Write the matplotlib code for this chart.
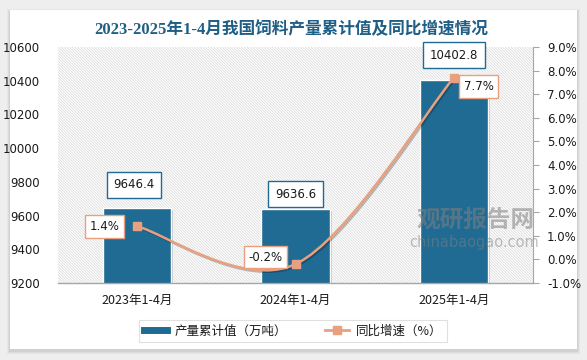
import numpy as np
import matplotlib
matplotlib.use("Agg")
import matplotlib.pyplot as plt
from matplotlib.patches import Rectangle
from matplotlib.path import Path
from matplotlib.patches import PathPatch
from matplotlib.lines import Line2D
import matplotlib.patheffects as pe

plt.rcParams['font.family'] = ['Noto Sans CJK SC', 'DejaVu Sans']
plt.rcParams['hatch.linewidth'] = 0.5

categories = ["2023年1-4月", "2024年1-4月", "2025年1-4月"]
production = [9646.4, 9636.6, 10402.8]
growth = [1.4, -0.2, 7.7]
left_ticks = [9200, 9400, 9600, 9800, 10000, 10200, 10400, 10600]
right_ticks = [-1, 0, 1, 2, 3, 4, 5, 6, 7, 8, 9]

title = "2023-2025年1-4月我国饲料产量累计值及同比增速情况"
legend_labels = ["产量累计值（万吨）", "同比增速（%）"]

BAR = '#1F6B93'
LINE = '#E9A07F'
TITLE_C = '#1F5F86'
TXT = '#1a1a1a'

W, H = 587, 360
fig = plt.figure(figsize=(W / 100, H / 100), dpi=100, facecolor='#eeeeee')

# white card with soft shadow
for i, a in enumerate([0.03, 0.04, 0.05]):
    d = 3 - i
    fig.patches.append(Rectangle(((10 - d) / W, (11 - d - 2) / H), (567 + 2 * d) / W, (339 + 2 * d) / H,
                                 transform=fig.transFigure, facecolor='black', alpha=a, edgecolor='none', zorder=-10))
fig.patches.append(Rectangle((10 / W, 11 / H), 567 / W, 339 / H, transform=fig.transFigure,
                             facecolor='white', edgecolor='none', zorder=-9))

ax = fig.add_axes([58 / W, 1 - 283 / H, (533 - 58) / W, (283 - 47) / H])
ax.set_facecolor('white')
ax.patch.set_hatch('\\' * 12)
ax.patch.set_edgecolor('#d6d6d6')
ax.patch.set_linewidth(0)

x = np.arange(len(categories))
bars = ax.bar(x, production, width=0.43, color=BAR, edgecolor='white', linewidth=1.0, zorder=2)
for b in bars:
    b.set_path_effects([pe.SimplePatchShadow(offset=(1.5, -1.5), alpha=0.35, shadow_rgbFace='#777777'), pe.Normal()])

ax.set_xlim(-0.5, 2.5)
ax.set_ylim(9200, 10600)
ax.set_yticks(left_ticks)
ax.set_yticklabels([str(v) for v in left_ticks], family=['DejaVu Sans'], fontsize=8.5, color=TXT)
ax.tick_params(axis='y', length=0, pad=13)
ax.set_xticks(x)
ax.set_xticklabels(categories, fontsize=9, color=TXT)
ax.tick_params(axis='x', length=0, pad=8)
for s in ['top', 'right', 'left']:
    ax.spines[s].set_visible(False)
ax.spines['bottom'].set_color('#a6a6a6')
ax.spines['bottom'].set_linewidth(1)

bar_offsets = [23, 15, 25]
for xi, v, off in zip(x, production, bar_offsets):
    ax.annotate(f"{v:.1f}", (xi, v), xytext=(-3 if xi == 0 else 0, off), textcoords='offset pixels',
                ha='center', va='center', fontsize=8.5, family=['DejaVu Sans'], color=TXT, zorder=6,
                bbox=dict(boxstyle='square,pad=0.55', facecolor='white', edgecolor=BAR, linewidth=1.0),
                annotation_clip=False)

ax2 = ax.twinx()
ax2.set_ylim(-1, 9)
ax2.set_yticks(right_ticks)
ax2.set_yticklabels([f"{v:.1f}%" for v in right_ticks], family=['DejaVu Sans'], fontsize=8.5, color=TXT)
ax2.tick_params(axis='y', direction='out', length=4, color='#a6a6a6', pad=6)
for s in ['top', 'left', 'bottom']:
    ax2.spines[s].set_visible(False)
ax2.spines['right'].set_color('#a6a6a6')

# smooth (Catmull-Rom style bezier) line through the data points
pts = np.column_stack([x, growth]).astype(float)
verts = [tuple(pts[0])]
codes = [Path.MOVETO]
n = len(pts)
for i in range(n - 1):
    p0 = pts[i - 1] if i > 0 else pts[i]
    p1, p2 = pts[i], pts[i + 1]
    p3 = pts[i + 2] if i + 2 < n else pts[i + 1]
    c1 = p1 + (p2 - p0) / 6
    c2 = p2 - (p3 - p1) / 6
    verts += [tuple(c1), tuple(c2), tuple(p2)]
    codes += [Path.CURVE4] * 3
ax2.add_patch(PathPatch(Path(verts, codes), facecolor='none', edgecolor=LINE, linewidth=1.8, zorder=3,
                        path_effects=[pe.SimpleLineShadow(offset=(1, -1), alpha=0.25), pe.Normal()]))
ax2.plot(x, growth, linestyle='none', marker='s', markersize=5.5, color=LINE, zorder=4)

pct_offsets = [(-33, 0), (-30, 7), (25, -9)]
for xi, v, (dx, dy) in zip(x, growth, pct_offsets):
    ax2.annotate(f"{v:.1f}%", (xi, v), xytext=(dx, dy), textcoords='offset pixels',
                 ha='center', va='center', fontsize=8.5, family=['DejaVu Sans'], color=TXT, zorder=6,
                 bbox=dict(boxstyle='square,pad=0.4', facecolor='white', edgecolor=LINE, linewidth=1.0),
                 annotation_clip=False)

# watermark
fig.text(476 / W, 1 - 220 / H, "观研报告网", fontsize=17, fontweight='bold', color='#808080', alpha=0.55,
         ha='center', va='center', zorder=10)
fig.text(474 / W, 1 - 243 / H, "chinabaogao.com", fontsize=10.5, family=['DejaVu Sans'], color='#808080', alpha=0.5,
         ha='center', va='center', zorder=10)

fig.text(291 / W, 1 - 30 / H, title, fontsize=12, fontweight='bold', color=TITLE_C, ha='center', va='center',
         family=['Liberation Serif', 'Noto Sans CJK SC'])

handles = [Line2D([], [], color=BAR, linewidth=5),
           Line2D([], [], color=LINE, linewidth=2, marker='s', markersize=5.5)]
leg = fig.legend(handles, legend_labels, loc='center', bbox_to_anchor=(293 / W, 1 - 331 / H), ncol=2,
                 fontsize=9, frameon=True, fancybox=False, edgecolor='#d9d9d9', handlelength=1.9,
                 columnspacing=3.0, handletextpad=0.6, borderpad=0.35)
leg.get_frame().set_linewidth(0.8)
for t in leg.get_texts():
    t.set_color(TXT)

fig.savefig("out.png", dpi=100, facecolor=fig.get_facecolor())
